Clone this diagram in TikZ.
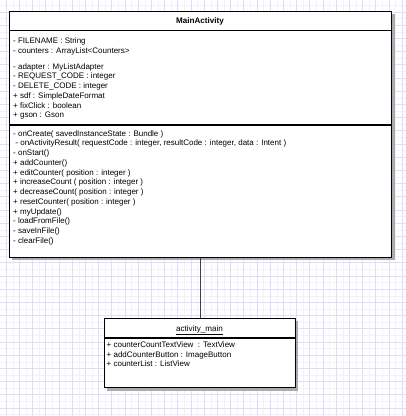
\documentclass[tikz,border=0pt]{standalone}
\usepackage{fontspec}
\setmainfont{Liberation Sans}
\definecolor{gridmajor}{RGB}{224,220,250}
\definecolor{gridminor}{RGB}{242,241,253}
\begin{document}
\begin{tikzpicture}[x=1pt,y=-1pt,
  box/.style={draw=black, line width=1.2pt, fill=white, inner sep=0pt, anchor=north west},
  shadowbox/.style={fill=black!33, draw=none},
  divider/.style={draw=black, line width=1.2pt},
  txt/.style={anchor=north west, inner sep=0pt, align=left, font=\fontsize{8}{9.73}\selectfont},
  conn/.style={draw=black!75, line width=0.8pt},
  minorgrid/.style={draw=gridminor, line width=0.6pt},
  majorgrid/.style={draw=gridmajor, line width=0.9pt}]
\useasboundingbox (0,0) rectangle (406,416);
\fill[white] (0,0) rectangle (406,416);
% grid
\foreach \i in {0,...,31} {
  \draw[minorgrid] ({6.3+13.2*\i-6.6},0) -- ({6.3+13.2*\i-6.6},416);
  \draw[minorgrid] (0,{12+13.2*\i-6.6}) -- (406,{12+13.2*\i-6.6});
}
\foreach \i in {0,...,31} {
  \draw[majorgrid] ({6.3+13.2*\i},0) -- ({6.3+13.2*\i},416);
  \draw[majorgrid] (0,{12+13.2*\i}) -- (406,{12+13.2*\i});
}
% shadows
\fill[shadowbox] (12,14) rectangle (394.5,260);
\fill[shadowbox] (107,321) rectangle (298,390.5);
% boxes
\node[box, minimum width=382, minimum height=246] (main) at (9,11) {};
\node[box, minimum width=191, minimum height=69] (act) at (104,318) {};
% connector
\draw[conn] (main.south -| act.north) -- (act.north);
% dividers
\coordinate (m1) at (9,30.5);
\coordinate (m2) at (9,125);
\coordinate (a1) at (104,338);
\draw[divider] (m1) -- (m1 -| main.east);
\draw[divider] (m2) -- (m2 -| main.east);
\draw[divider] (a1) -- (a1 -| act.east);
% titles
\node[font=\fontsize{8.1}{9}\selectfont\bfseries, inner sep=0pt, anchor=base] (t1) at (200,23.6) {MainActivity};
\node[font=\fontsize{8.1}{9}\selectfont, inner sep=0pt, anchor=base] (t2) at (199.5,331.6) {\underline{activity\_main}};
% attributes
\node[txt] (attrs) at (13,37.7) {- FILENAME : String\\
- counters : ArrayList<Counters>\\[6pt]
- adapter : MyListAdapter\\
- REQUEST\_CODE : integer\\
- DELETE\_CODE : integer\\
+ sdf : SimpleDateFormat\\
+ fixClick : boolean\\
+ gson : Gson};
% methods
\node[txt] (meths) at (13,130.2) {- onCreate( savedInstanceState : Bundle )\\
\ - onActivityResult( requestCode : integer, resultCode : integer, data : Intent )\\
- onStart()\\
+ addCounter()\\
+ editCounter( position : integer )\\
+ increaseCount ( position : integer )\\
+ decreaseCount( position : integer )\\
+ resetCounter( position : integer )\\
+ myUpdate()\\
- loadFromFile()\\
- saveInFile()\\
- clearFile()};
% activity_main fields
\node[txt] (fields) at (106.5,341.4) {+ counterCountTextView\ \ : TextView\\
+ addCounterButton : ImageButton\\
+ counterList : ListView};
\end{tikzpicture}
\end{document}
